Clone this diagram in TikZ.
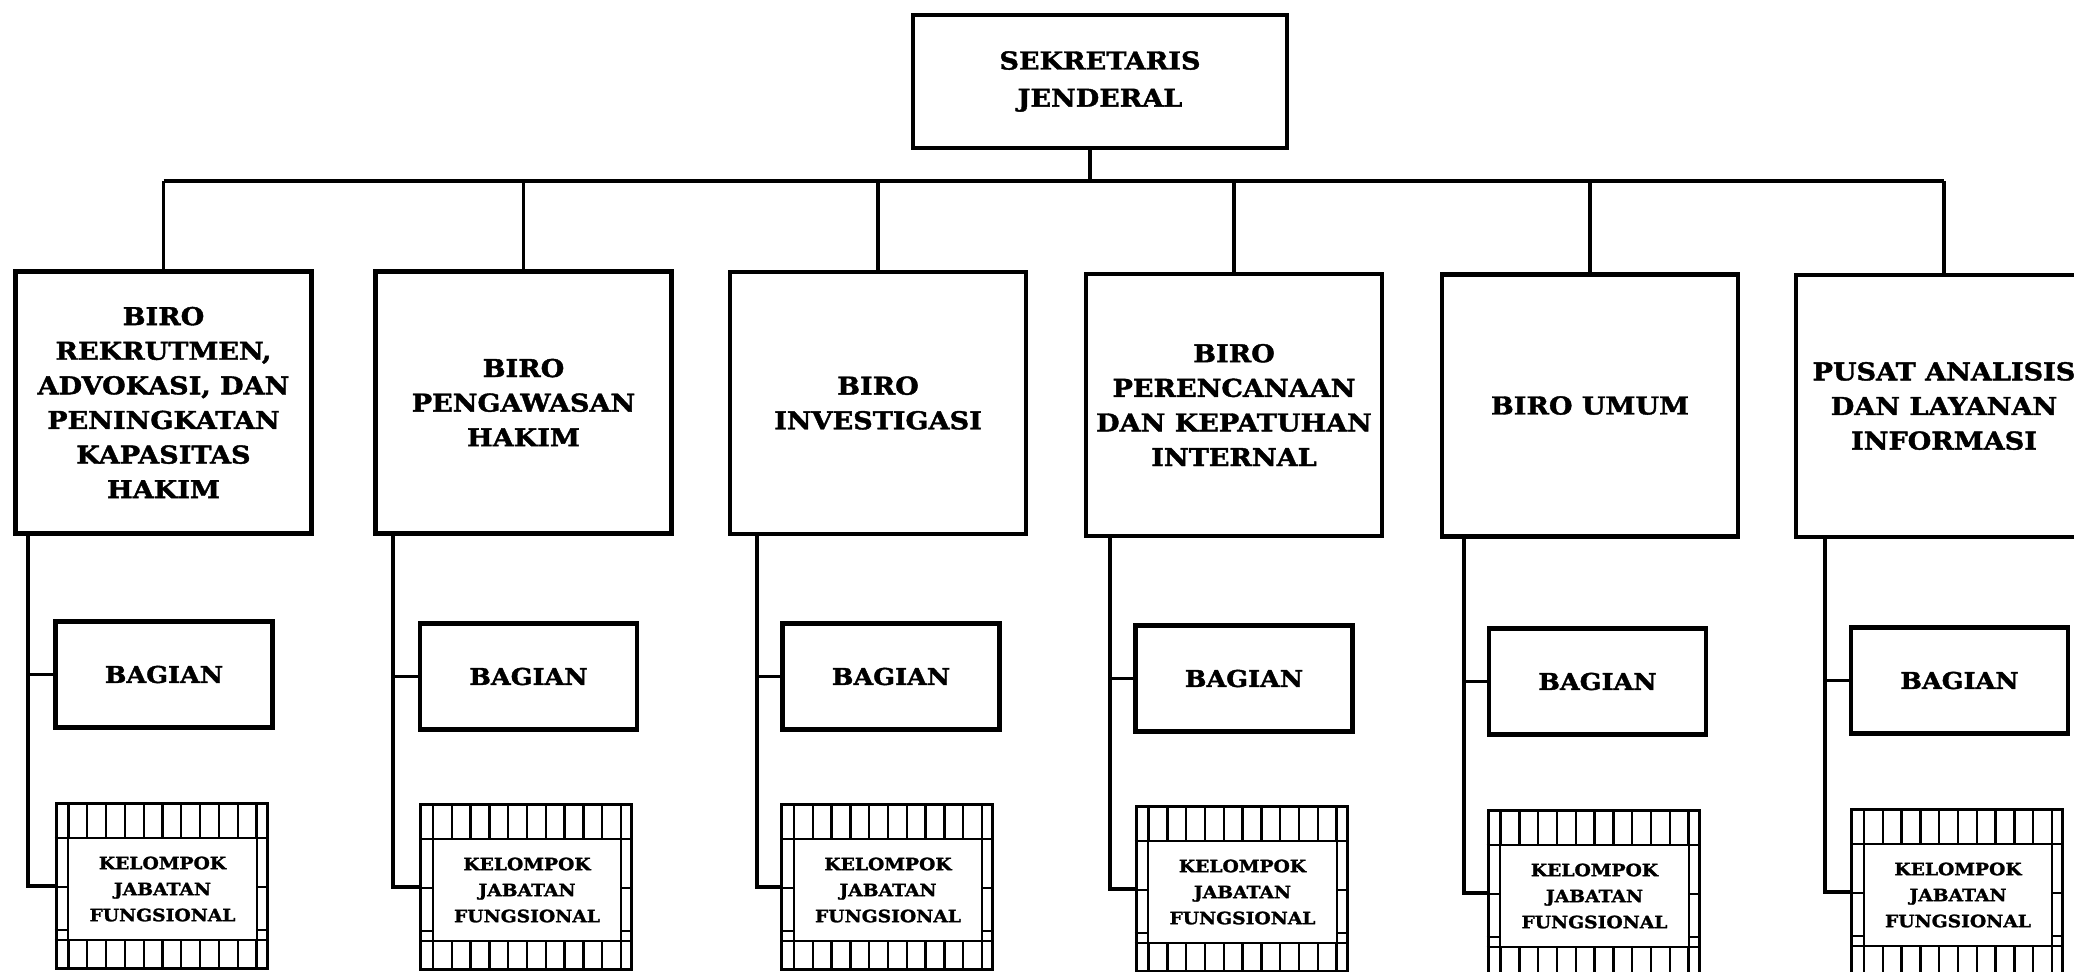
\documentclass[tikz,border=0pt]{standalone}
\usepackage{fontspec}
\newfontfamily\orgfont[FakeStretch=1.1,FakeBold=1.6]{DejaVu Serif}
\usetikzlibrary{calc}
\begin{document}
\begin{tikzpicture}[x=0.5pt,y=-0.5pt,
  box/.style={draw, line width=2.1pt, fill=white, inner sep=0pt, align=center,
    font=\orgfont\bfseries\fontsize{12.3}{17.3}\selectfont},
  topbox/.style={box, minimum width=187pt, minimum height=66.5pt,
    font=\orgfont\bfseries\fontsize{12.3}{18.6}\selectfont},
  birobox/.style={box, minimum width=148pt, minimum height=131pt},
  bagbox/.style={box, minimum width=108.5pt, minimum height=53pt,
    font=\orgfont\bfseries\fontsize{11.6}{14}\selectfont},
  kjfbox/.style={draw, line width=1.5pt, fill=white, inner sep=0pt,
    minimum width=105.5pt, minimum height=82.5pt},
  kjftext/.style={inner sep=0pt, align=center,
    font=\orgfont\bfseries\fontsize{8.5}{13}\selectfont},
  conn/.style={line width=1.9pt},
  band/.style={line width=1.2pt},
  inner/.style={draw, line width=0.8pt, fill=white}]
\useasboundingbox (0,0) rectangle (2074,971);
\clip (0,0) rectangle (2074,971);

% top
\node[topbox] (top) at (1100,81.5) {SEKRETARIS\\JENDERAL};
\coordinate (bus) at (1090,181);

% biro boxes
\node[birobox] (biro1) at (163.5,402.5) {BIRO\\REKRUTMEN,\\ADVOKASI, DAN\\PENINGKATAN\\KAPASITAS\\HAKIM};
\node[birobox] (biro2) at (523.5,402.5) {BIRO\\PENGAWASAN\\HAKIM};
\node[birobox] (biro3) at (878,403) {BIRO\\INVESTIGASI};
\node[birobox] (biro4) at (1234,405) {BIRO\\PERENCANAAN\\DAN KEPATUHAN\\INTERNAL};
\node[birobox] (biro5) at (1590,405.5) {BIRO UMUM};
\node[birobox] (biro6) at (1944,406) {PUSAT ANALISIS\\DAN LAYANAN\\INFORMASI};

% bus
\draw[conn] (top.south -| bus) -- (bus);
\draw[conn] (biro1.north |- bus) -- (biro6.north |- bus);
\foreach \i in {1,...,6}{
  \draw[conn] (biro\i.north |- bus) -- (biro\i.north);
}

\foreach \i/\sx/\gx/\gy/\kx/\ky in {
 1/28/164/674.5/161.5/886,
 2/393/528.5/676.5/526/887,
 3/757/891/676.5/887/887,
 4/1110/1244/678.5/1241.5/889,
 5/1464/1597.5/681.5/1593.5/893,
 6/1825/1959.5/680.5/1957/892}{
  \coordinate (sp\i) at (\sx,600);
  \node[bagbox] (bag\i) at (\gx,\gy) {BAGIAN};
  \node[kjfbox] (kjf\i) at (\kx,\ky) {};
  \draw[conn] (biro\i.south -| sp\i) |- (kjf\i.west);
  \draw[conn] (sp\i |- bag\i.west) -- (bag\i.west);
  % hatched frame
  \coordinate (nw\i) at ($(kjf\i.north west)+(14,36)$);
  \coordinate (se\i) at ($(kjf\i.south east)+(-12,-30)$);
  \draw[band] (nw\i |- kjf\i.north) -- (nw\i |- kjf\i.south);
  \draw[band] (se\i |- kjf\i.north) -- (se\i |- kjf\i.south);
  \foreach \k in {1,...,9}{
    \draw[band] ($(nw\i |- kjf\i.north)!\k/10!(se\i |- kjf\i.north)$) -- ($(nw\i)!\k/10!(se\i |- nw\i)$);
    \draw[band] ($(nw\i |- se\i)!\k/10!(se\i)$) -- ($(nw\i |- kjf\i.south)!\k/10!(se\i |- kjf\i.south)$);
  }
  \foreach \dy in {0,49,92}{
    \draw[band] ($(kjf\i.west |- nw\i)+(0,\dy)$) -- ($(nw\i)+(0,\dy)$);
    \draw[band] ($(se\i |- nw\i)+(0,\dy)$) -- ($(kjf\i.east |- nw\i)+(0,\dy)$);
  }
  \draw[band] (kjf\i.west |- se\i) -- (se\i -| kjf\i.east);
  \path[inner] (nw\i) rectangle (se\i);
  \node[kjftext] (kjft\i) at ($(nw\i)!0.5!(se\i)$) {KELOMPOK\\JABATAN\\FUNGSIONAL};
}
\end{tikzpicture}
\end{document}
